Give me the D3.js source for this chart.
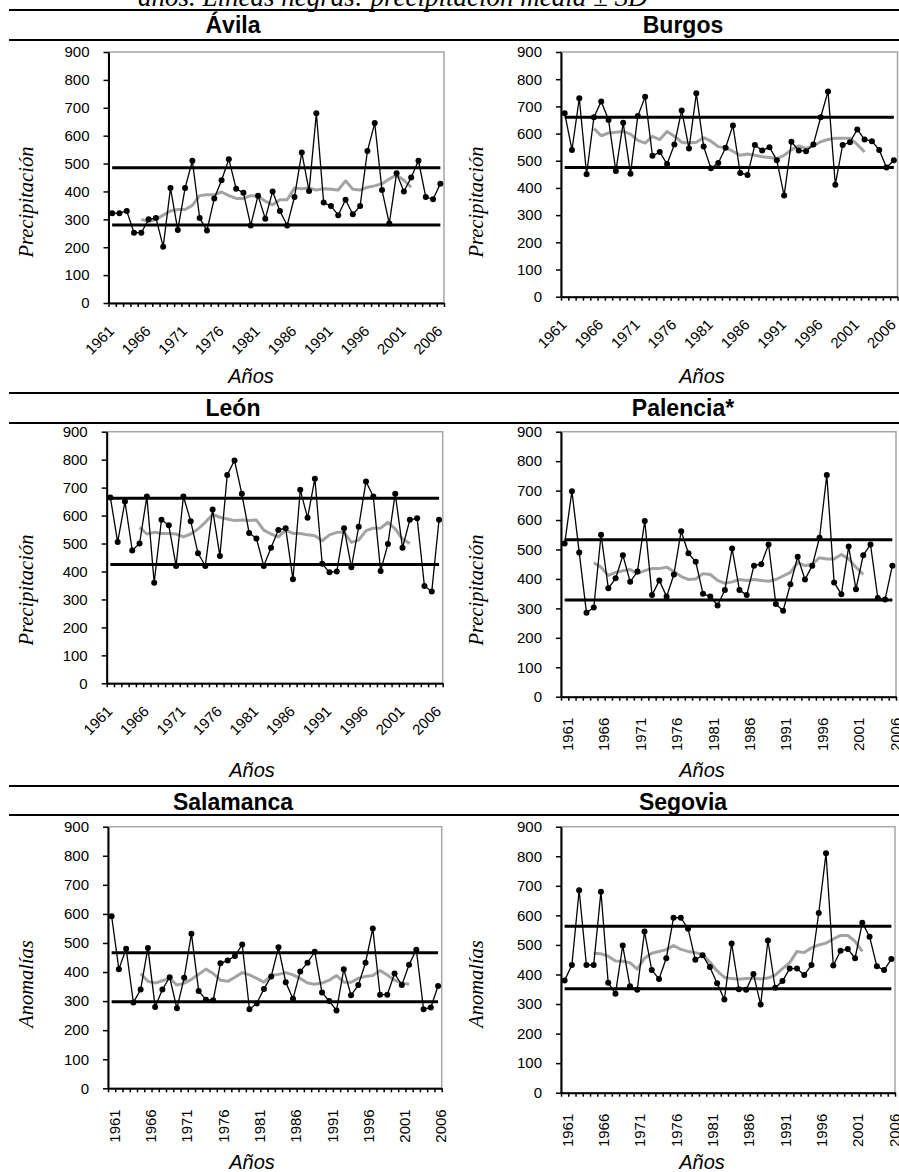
<!DOCTYPE html>
<html>
<head>
<meta charset="utf-8">
<script src="https://d3js.org/d3.v7.min.js"></script>
<title>Precipitación en Castilla y León</title>
<style>
  body { margin: 0; background: #fff; }
  svg { display: block; }
</style>
</head>
<body>
<div id="chart"></div>
<script>

// categories on the x axis
var years = [1961,1962,1963,1964,1965,1966,1967,1968,1969,1970,1971,1972,1973,1974,1975,1976,
  1977,1978,1979,1980,1981,1982,1983,1984,1985,1986,1987,1988,1989,1990,1991,1992,1993,1994,
  1995,1996,1997,1998,1999,2000,2001,2002,2003,2004,2005,2006];
var labelYears = [1961,1966,1971,1976,1981,1986,1991,1996,2001,2006];
// years covered by the grey moving average
var mediaYears = [1965,1966,1967,1968,1969,1970,1971,1972,1973,1974,1975,1976,1977,1978,1979,
  1980,1981,1982,1983,1984,1985,1986,1987,1988,1989,1990,1991,1992,1993,1994,1995,1996,1997,
  1998,1999,2000,2001,2002];
var yTicks = [0,100,200,300,400,500,600,700,800,900];

// annual precipitation (black), moving average (grey), mean - SD / mean + SD (black bars)
var avila = [322,322,330,252,252,300,305,202,412,262,412,510,305,260,375,440,515,410,395,278,
  385,302,400,330,278,380,540,402,680,360,348,315,370,318,348,545,645,405,285,465,400,450,510,380,372,428];
var avilaMedia = [300,292,300,315,330,335,335,350,385,388,388,398,385,375,375,385,383,365,352,
  370,370,412,410,412,405,410,408,405,438,408,405,415,420,428,445,458,440,415];
var avilaSD = [280,485];

var burgos = [675,540,730,450,660,718,650,462,640,452,665,735,518,532,488,560,685,545,748,552,
  472,492,548,630,455,448,558,538,550,502,372,570,538,535,560,660,755,412,558,568,615,578,572,540,475,502];
var burgosMedia = [618,592,602,605,608,598,575,565,590,578,608,590,568,565,568,585,572,552,548,
  535,520,525,520,515,512,508,520,540,555,545,555,570,578,583,583,583,560,532];
var burgosSD = [475,660];

var leon = [665,505,650,475,500,668,360,585,565,420,668,580,465,420,622,455,745,797,678,538,
  518,420,485,548,555,372,692,592,732,428,397,400,555,415,560,722,668,402,498,678,485,585,590,348,328,585];
var leonMedia = [558,534,540,536,536,534,524,534,552,576,604,594,588,582,584,582,584,548,534,
  524,548,536,536,531,528,510,531,540,540,504,512,546,555,555,576,552,516,500];
var leonSD = [425,662];

var palencia = [520,698,490,285,303,550,368,402,480,390,425,597,345,395,340,415,562,487,458,350,
  340,310,362,503,362,345,445,450,517,315,292,382,475,398,445,540,753,388,348,510,365,480,517,335,330,445];
var palenciaMedia = [455,440,412,422,428,432,418,428,435,435,440,425,408,398,400,418,415,395,385,
  390,398,395,398,395,392,398,410,422,455,445,450,472,468,468,483,468,440,415];
var palenciaSD = [328,533];

var salamanca = [592,410,480,295,340,483,280,340,382,275,380,532,335,305,303,430,440,455,495,272,
  292,342,385,485,365,308,402,432,470,330,300,268,410,320,355,432,550,322,322,395,355,425,477,272,278,352];
var salamancaMedia = [395,368,362,370,378,355,362,375,392,410,395,372,368,382,398,390,378,365,388,
  392,398,390,378,362,358,362,372,388,365,365,378,385,388,405,390,372,362,358];
var salamancaSD = [298,466];

var segovia = [380,432,685,432,432,680,372,335,498,360,348,545,415,385,455,592,592,555,450,465,
  425,370,315,505,350,348,402,298,515,355,378,420,420,398,432,608,810,430,480,486,455,575,528,428,415,452];
var segoviaMedia = [472,470,462,446,445,440,418,455,472,478,484,498,485,478,474,468,442,412,390,
  386,384,386,388,385,388,398,420,440,478,474,490,500,506,520,532,532,512,478];
var segoviaSD = [352,563];

// panel layout (plot area edges, label rotation, title positions)
var panels = [
  {name: "Ávila", data: avila, media: avilaMedia, sd: avilaSD, yTitle: "Precipitación",
   left: 108.5, right: 444, top: 52, bottom: 303, rot: -45, cx: 233, titleY: 33, yTitleY: 202, xTitleY: 383, xTitleX: 251, yTitleX: 33},
  {name: "Burgos", data: burgos, media: burgosMedia, sd: burgosSD, yTitle: "Precipitación",
   left: 561, right: 897.5, top: 52, bottom: 296.7, rot: -45, cx: 683, titleY: 33, yTitleY: 202, xTitleY: 383, xTitleX: 702, yTitleX: 483},
  {name: "León", data: leon, media: leonMedia, sd: leonSD, yTitle: "Precipitación",
   left: 106.7, right: 442.7, top: 431.7, bottom: 683.3, rot: -45, cx: 233, titleY: 416, yTitleY: 590, xTitleY: 777, xTitleX: 252, yTitleX: 33},
  {name: "Palencia*", data: palencia, media: palenciaMedia, sd: palenciaSD, yTitle: "Precipitación",
   left: 561, right: 896, top: 431.7, bottom: 696.7, rot: -90, cx: 683, titleY: 416, yTitleY: 590, xTitleY: 777, xTitleX: 702, yTitleX: 483},
  {name: "Salamanca", data: salamanca, media: salamancaMedia, sd: salamancaSD, yTitle: "Anomalías",
   left: 108, right: 441.7, top: 826.7, bottom: 1088.3, rot: -90, cx: 233, titleY: 810, yTitleY: 984, xTitleY: 1169, xTitleX: 252, yTitleX: 33},
  {name: "Segovia", data: segovia, media: segoviaMedia, sd: segoviaSD, yTitle: "Anomalías",
   left: 561, right: 895, top: 826.7, bottom: 1092.7, rot: -90, cx: 683, titleY: 810, yTitleY: 984, xTitleY: 1169, xTitleX: 702, yTitleX: 483}
];

var width = 899, height = 1172;
var sans = "'Liberation Sans', Arial, sans-serif";
var serif = "'Liberation Serif', 'Times New Roman', serif";

var svg = d3.select("#chart").append("svg")
  .attr("width", width)
  .attr("height", height);

// caption line cut at the top of the page
svg.append("text")
  .attr("x", 138)
  .attr("y", 6)
  .style("font-family", serif)
  .style("font-style", "italic")
  .style("font-size", "27px")
  .text("años. Líneas negras: precipitación media ± SD");

// table rules
[10, 40, 393, 423, 786, 815].forEach(function(ry) {
  svg.append("line")
    .attr("x1", 9).attr("x2", 899)
    .attr("y1", ry).attr("y2", ry)
    .attr("stroke", "#000")
    .attr("stroke-width", 2);
});

panels.forEach(function(p) {

  var g = svg.append("g");

  // scales
  var x = d3.scaleLinear()
    .domain([years[0] - 0.5, years[years.length - 1] + 0.5])
    .range([p.left, p.right]);
  var y = d3.scaleLinear()
    .domain([0, 900])
    .range([p.bottom, p.top]);

  // panel title
  g.append("text")
    .attr("x", p.cx)
    .attr("y", p.titleY)
    .attr("text-anchor", "middle")
    .style("font-family", sans)
    .style("font-weight", "bold")
    .style("font-size", "23px")
    .text(p.name);

  // plot area border
  g.append("rect")
    .attr("x", p.left).attr("y", p.top)
    .attr("width", p.right - p.left)
    .attr("height", p.bottom - p.top)
    .attr("fill", "none")
    .attr("stroke", "#a6a6a6")
    .attr("stroke-width", 1.5);

  // y axis
  var yAxis = g.append("g")
    .attr("transform", "translate(" + p.left + ",0)")
    .call(d3.axisLeft(y).tickValues(yTicks).tickSize(5).tickSizeOuter(0).tickPadding(14));
  yAxis.select(".domain").attr("stroke-width", 2);
  yAxis.selectAll(".tick line").attr("stroke-width", 1.5);
  yAxis.selectAll("text")
    .style("font-family", sans)
    .style("font-size", "15px")
    .attr("fill", "#000");

  // x axis: ticks between categories
  var bounds = years.map(function(yr) { return yr - 0.5; }).concat([years[years.length - 1] + 0.5]);
  var xAxis = g.append("g")
    .attr("transform", "translate(0," + p.bottom + ")")
    .call(d3.axisBottom(x).tickValues(bounds).tickFormat("").tickSize(4).tickSizeOuter(0));
  xAxis.select(".domain").attr("stroke-width", 2);
  xAxis.selectAll(".tick line").attr("stroke-width", 1.5);

  // x tick labels
  labelYears.forEach(function(yr) {
    var t = g.append("text")
      .style("font-family", sans)
      .style("font-size", "15px")
      .attr("text-anchor", "end")
      .text(yr);
    if (p.rot === -45) {
      t.attr("transform", "translate(" + (x(yr) + 3) + "," + (p.bottom + 29) + ") rotate(-45)");
    } else {
      t.attr("transform", "translate(" + (x(yr) + 3) + "," + (p.bottom + 21) + ") rotate(-90)")
        .attr("dy", "0.35em");
    }
  });

  // axis titles
  g.append("text")
    .attr("x", p.xTitleX)
    .attr("y", p.xTitleY)
    .attr("text-anchor", "middle")
    .style("font-family", sans)
    .style("font-style", "italic")
    .style("font-size", "20px")
    .text("Años");

  g.append("text")
    .attr("transform", "translate(" + p.yTitleX + "," + p.yTitleY + ") rotate(-90)")
    .attr("text-anchor", "middle")
    .style("font-family", serif)
    .style("font-style", "italic")
    .style("font-size", "20.5px")
    .text(p.yTitle);

  // mean +- SD lines
  p.sd.forEach(function(v) {
    g.append("line")
      .attr("x1", x(years[0]))
      .attr("x2", x(years[years.length - 1]))
      .attr("y1", y(v)).attr("y2", y(v))
      .attr("stroke", "#000")
      .attr("stroke-width", 3);
  });

  // moving average
  var mediaPts = mediaYears.map(function(yr, i) { return {year: yr, v: p.media[i]}; });
  g.append("path")
    .datum(mediaPts)
    .attr("fill", "none")
    .attr("stroke", "#a3a3a3")
    .attr("stroke-width", 3)
    .attr("stroke-linejoin", "round")
    .attr("d", d3.line().x(function(d) { return x(d.year); }).y(function(d) { return y(d.v); }));

  // annual series
  var pts = years.map(function(yr, i) { return {year: yr, v: p.data[i]}; });
  g.append("path")
    .datum(pts)
    .attr("fill", "none")
    .attr("stroke", "#000")
    .attr("stroke-width", 1.3)
    .attr("d", d3.line().x(function(d) { return x(d.year); }).y(function(d) { return y(d.v); }));

  g.selectAll("circle.pt")
    .data(pts)
    .enter().append("circle")
    .attr("class", "pt")
    .attr("cx", function(d) { return x(d.year); })
    .attr("cy", function(d) { return y(d.v); })
    .attr("r", 3)
    .attr("fill", "#000");
});

</script>
</body>
</html>
